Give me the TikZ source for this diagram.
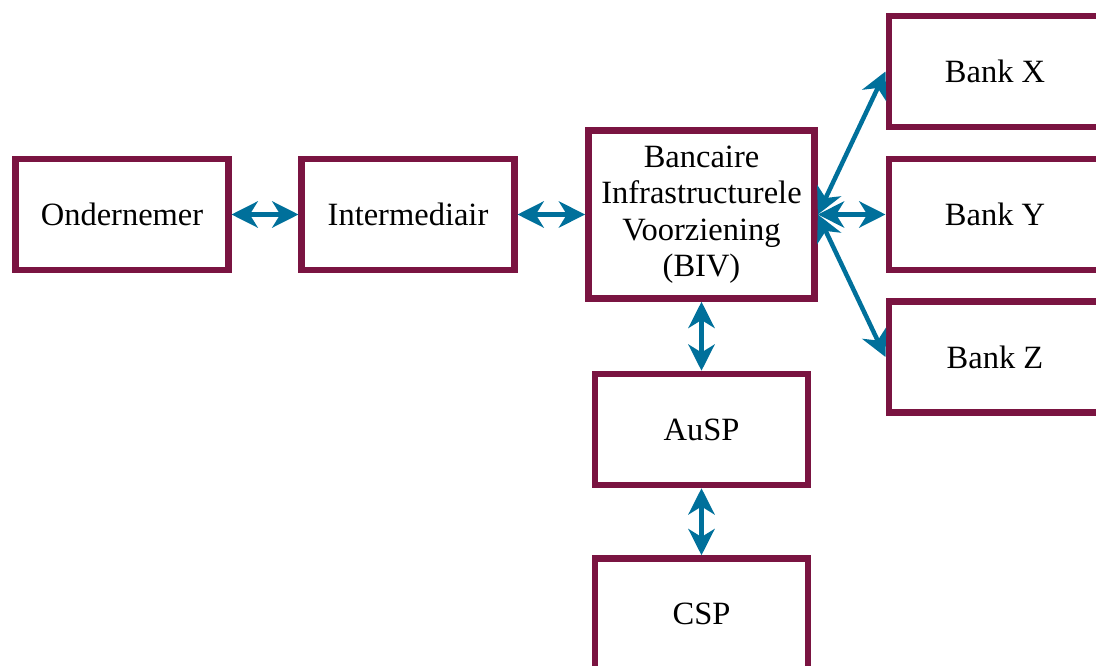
\documentclass[tikz,border=0pt]{standalone}
\usepackage{fontspec}
\setmainfont{Liberation Serif}
\usetikzlibrary{arrows.meta}
\definecolor{boxred}{RGB}{122,20,65}
\definecolor{linkblue}{RGB}{0,112,155}

\begin{document}
\begin{tikzpicture}[x=0.4pt,y=-0.4pt,
	box/.style={draw=boxred,line width=2.6pt,minimum width=85pt,minimum height=44.4pt,align=center,font=\fontsize{13}{14.6}\selectfont},
	link/.style={draw=linkblue,line width=1.8pt,{Stealth[length=10.5pt,width=10.5pt,inset=3.2pt]}-{Stealth[length=10.5pt,width=10.5pt,inset=3.2pt]}}]
	\useasboundingbox (0,0) rectangle (1096,666);
	\node[box] (ond) at (122,214.5) {Ondernemer};
	\node[box] (int) at (408,214.5) {Intermediair};
	\node[box,minimum width=90.5pt,minimum height=67.2pt] (biv) at (701.5,214.5) {Bancaire\\Infrastructurele\\Voorziening\\(BIV)};
	\node[box] (bankx) at (995,71.5) {Bank X};
	\node[box] (banky) at (995,214.5) {Bank Y};
	\node[box] (bankz) at (995,357) {Bank Z};
	\node[box] (ausp) at (701.5,429.5) {AuSP};
	\node[box] (csp) at (701.5,614) {CSP};
	
	\draw[link] (ond) -- (int);
	\draw[link] (int) -- (biv);
	\draw[link] (biv.east) -- (bankx.west);
	\draw[link] (biv.east) -- (banky.west);
	\draw[link] (biv.east) -- (bankz.west);
	\draw[link] (biv) -- (ausp);
	\draw[link] (ausp) -- (csp);
\end{tikzpicture}
\end{document}
